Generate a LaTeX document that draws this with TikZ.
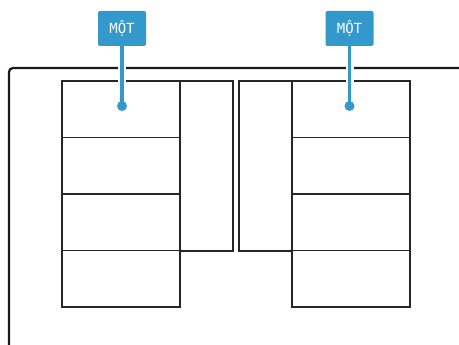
\documentclass[tikz,border=0pt]{standalone}
\usepackage{fontspec}
\newfontfamily\labelfont{DejaVu Sans Mono}
\definecolor{calloutblue}{HTML}{3399CC}
\tikzset{
  shelf/.style={draw=black!85, line width=1.3pt},
  frame/.style={draw=black!90, line width=2.2pt, rounded corners=4pt},
  callout/.style={fill=calloutblue, text=white, rounded corners=2pt,
    minimum width=48pt, minimum height=35pt, inner sep=0pt,
    font=\labelfont\fontsize{14}{16}\selectfont},
  leader/.style={draw=calloutblue, line width=3.5pt,
    preaction={draw=white, line width=8pt}},
}
\begin{document}
\begin{tikzpicture}[x=1pt,y=-1pt]
    \useasboundingbox (0,0) rectangle (459,345);
    \pgfmathsetmacro\h{56.5}
    % outer frame
    \draw[frame] (470,68) -- (9,68) -- (9,360);
    % shelves
    \foreach \r in {0,...,3} {
        \draw[shelf] (62,81+\h*\r) rectangle (180,81+\h*\r+\h);
        \draw[shelf] (292,81+\h*\r) rectangle (410,81+\h*\r+\h);
    }
    \draw[shelf] (180,81) rectangle (233,251);
    \draw[shelf] (239,81) rectangle (292,251);
    % callouts
    \node[callout] (labL) at (122,28.5) {MỘT};
    \node[callout] (labR) at (349.5,28.5) {MỘT};
    \coordinate (dotL) at (122,106);
    \coordinate (dotR) at (349.5,106);
    \draw[leader] (labL) -- (dotL);
    \draw[leader] (labR) -- (dotR);
    \fill[calloutblue] (dotL) circle (5pt) (dotR) circle (5pt);
\end{tikzpicture}
\end{document}
